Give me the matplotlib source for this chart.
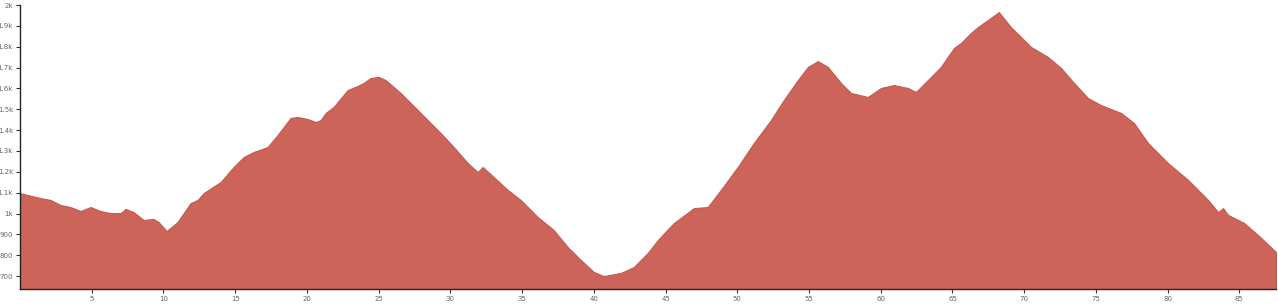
import matplotlib
matplotlib.use("Agg")
import matplotlib.pyplot as plt

distance_km = [0.0, 1.43, 2.13, 2.82, 3.52, 4.22, 4.92, 5.61, 6.31, 7.01, 7.36, 7.92, 8.61, 9.31, 9.66,
               10.22, 10.98, 11.89, 12.38, 12.80, 13.98, 14.89, 15.59, 16.28, 17.26, 17.96, 18.86, 19.35,
               20.05, 20.61, 20.96, 21.30, 21.86, 22.84, 23.54, 23.95, 24.44, 25.00, 25.49, 26.53, 27.93,
               29.32, 30.23, 31.21, 31.90, 32.25, 33.02, 34.00, 34.90, 36.09, 37.20, 38.18, 39.09, 39.99,
               40.69, 41.88, 42.78, 43.76, 44.46, 45.57, 46.97, 47.94, 48.85, 50.03, 51.15, 52.34, 53.24,
               54.22, 54.92, 55.61, 56.31, 57.22, 57.92, 59.10, 60.01, 60.91, 61.89, 62.45, 63.28, 64.19,
               65.10, 65.59, 66.28, 66.77, 68.23, 69.07, 70.47, 71.65, 72.56, 73.47, 74.44, 75.35, 76.75,
               77.65, 78.63, 80.02, 81.42, 82.81, 83.51, 83.86, 84.21, 85.32, 86.51, 87.55]
elevation_m = [1098, 1074, 1065, 1041, 1031, 1012, 1031, 1012, 1002, 1002, 1022, 1007, 969, 974, 959,
               916, 959, 1050, 1065, 1098, 1151, 1223, 1271, 1295, 1319, 1377, 1458, 1463,
               1453, 1439, 1448, 1482, 1511, 1592, 1612, 1626, 1650, 1655, 1640, 1578, 1482,
               1386, 1319, 1242, 1199, 1223, 1175, 1113, 1065, 983, 921, 839, 777, 720,
               700, 715, 743, 811, 873, 954, 1026, 1031, 1113, 1223, 1338, 1448, 1544,
               1640, 1703, 1731, 1703, 1626, 1578, 1559, 1602, 1616, 1602, 1583, 1640, 1703,
               1794, 1818, 1866, 1894, 1966, 1894, 1799, 1751, 1698, 1626, 1554, 1520, 1482,
               1434, 1338, 1242, 1161, 1065, 1007, 1026, 993, 955, 883, 815]

x_ticks = [5, 10, 15, 20, 25, 30, 35, 40, 45, 50, 55, 60, 65, 70, 75, 80, 85]
y_ticks = [700, 800, 900, 1000, 1100, 1200, 1300, 1400, 1500, 1600, 1700, 1800, 1900, 2000]
y_tick_labels = ["700", "800", "900", "1k", "1.1k", "1.2k", "1.3k", "1.4k", "1.5k", "1.6k",
                 "1.7k", "1.8k", "1.9k", "2k"]

fig = plt.figure(figsize=(12.78, 3.06), dpi=100)
ax = fig.add_axes([20 / 1278, 17 / 306, 1256 / 1278, 284 / 306])
ax.fill_between(distance_km, elevation_m, 600, color="#cd6459", edgecolor="#c35a50", linewidth=0.8)
ax.set_xlim(0, distance_km[-1])
ax.set_ylim(638, 2000)
ax.set_xticks(x_ticks)
ax.set_xticklabels([str(t) for t in x_ticks])
ax.set_yticks(y_ticks)
ax.set_yticklabels(y_tick_labels)
for s in ["top", "right"]:
    ax.spines[s].set_visible(False)
for s in ["left", "bottom"]:
    ax.spines[s].set_color("#222222")
    ax.spines[s].set_linewidth(1.0)
ax.tick_params(axis="both", length=3, width=0.8, color="#333333", labelsize=5, labelcolor="#666666", pad=2)
fig.savefig("out.png", dpi=100)
